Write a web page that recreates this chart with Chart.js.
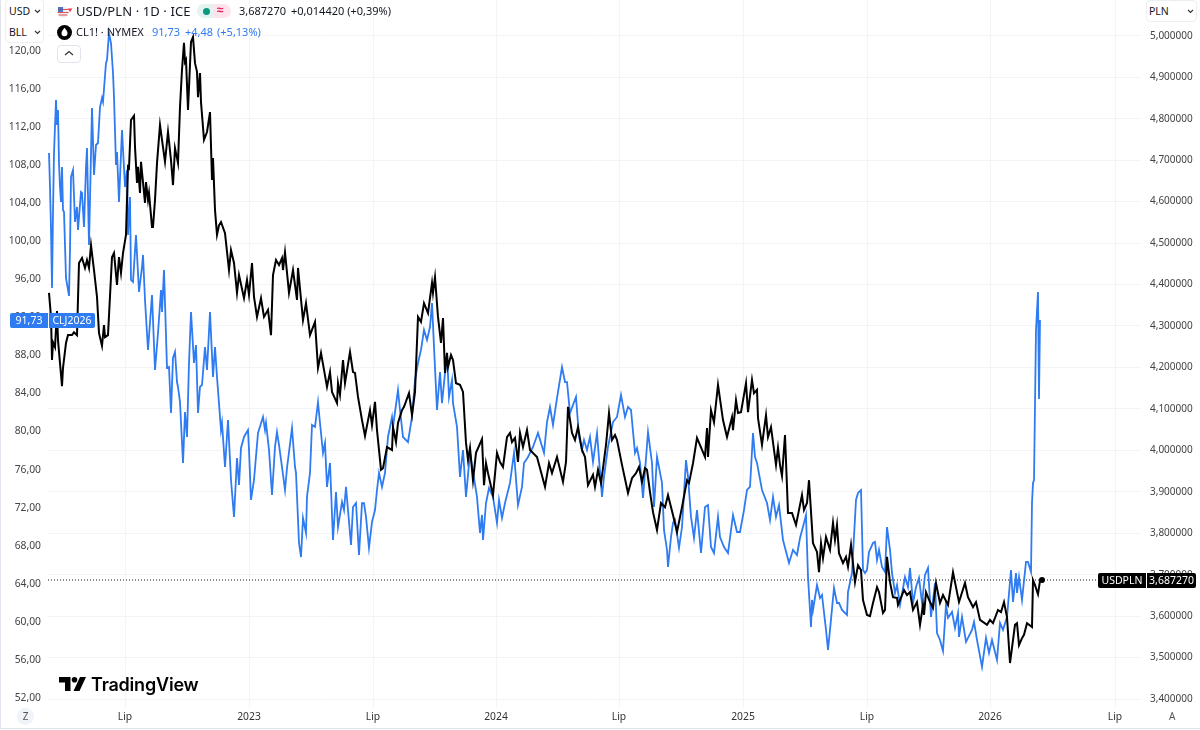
<!DOCTYPE html>
<html><head><meta charset="utf-8">
<script src="https://cdn.jsdelivr.net/npm/chart.js@4"></script>
<style>
html,body{margin:0;padding:0;background:#fff;overflow:hidden}
#wrap{position:relative;width:1200px;height:730px;font-family:"Noto Sans",sans-serif;color:#131722}
canvas{position:absolute;left:0;top:0}
.t{position:absolute;white-space:nowrap;line-height:14px}
.box{position:absolute;border:1px solid #eceef2;border-radius:4px;background:#fff;box-sizing:border-box}
.frame{position:absolute;background:#e0e3eb}
</style></head><body><div id="wrap"><canvas id="c" width="1200" height="730"></canvas>
<div class="frame" style="left:0;top:0;width:1px;height:729px"></div>
<div class="frame" style="left:0;top:728px;width:1200px;height:1px"></div>
<div class="box" style="left:5px;top:-1px;width:39px;height:44px"></div>
<div class="t" style="left:9px;top:4px;font-size:10.5px">USD</div>
<div class="t" style="left:9px;top:25px;font-size:10.5px">BLL</div>
<svg style="position:absolute;left:33px;top:8px" width="9" height="30"><path d="M2 2l2.5 2.5L7 2M2 23l2.5 2.5L7 23" fill="none" stroke="#333" stroke-width="1.1"/></svg>
<div class="box" style="left:1146px;top:0;width:51px;height:22px"></div>
<div class="t" style="left:1149px;top:4px;font-size:10.5px">PLN</div>
<svg style="position:absolute;left:1186px;top:9px" width="9" height="6"><path d="M2 1l2.5 2.5L7 1" fill="none" stroke="#333" stroke-width="1.1"/></svg>
<svg style="position:absolute;left:57px;top:6px" width="16" height="12"><circle cx="6" cy="6" r="5.5" fill="#e9edf5"/><path d="M1 3.5h10M.6 6.5h11M1.5 9h9" stroke="#e2534f" stroke-width="1.2"/><path d="M1 1h5v5H1z" fill="#3b5fb5" opacity=".85"/><path d="M10.5 2.5h5l-2.5 3.5z" fill="#f23645"/></svg>
<div class="t" style="left:76px;top:4px;font-size:13px;letter-spacing:.1px">USD/PLN · 1D · ICE</div>
<div style="position:absolute;left:197px;top:4px;width:34px;height:14px;border-radius:7px;background:linear-gradient(90deg,#e4f3ef 50%,#fde3ea 50%)"></div>
<div style="position:absolute;left:203px;top:8px;width:7px;height:7px;border-radius:50%;background:#089981"></div>
<div class="t" style="left:217px;top:3px;font-size:12px;color:#d81e5b;font-weight:700">≈</div>
<div class="t" style="left:239px;top:4px;font-size:11px">3,687270</div>
<div class="t" style="left:291px;top:4px;font-size:11px">+0,014420 (+0,39%)</div>
<svg style="position:absolute;left:57px;top:25px" width="15" height="15"><circle cx="7.5" cy="7.5" r="7.5" fill="#000"/><path d="M7.5 2.8c2 2.5 3 4 3 5.4a3 3 0 0 1-6 0c0-1.4 1-2.9 3-5.4z" fill="#fff"/></svg>
<div class="t" style="left:76px;top:25px;font-size:11px">CL1! · NYMEX</div>
<div class="t" style="left:152px;top:25px;font-size:11px;color:#2f7bf2">91,73</div>
<div class="t" style="left:185px;top:25px;font-size:11px;color:#2f7bf2">+4,48</div>
<div class="t" style="left:217px;top:25px;font-size:11px;color:#2f7bf2">(+5,13%)</div>
<div class="box" style="left:57px;top:45px;width:24px;height:18px;border-color:#e0e3eb"></div>
<svg style="position:absolute;left:64px;top:50px" width="10" height="7"><path d="M1 5l4-3.5L9 5" fill="none" stroke="#333" stroke-width="1.2"/></svg>
<div style="position:absolute;left:10px;top:313px;width:38px;height:15px;background:#2f7bf2;border-radius:2px 0 0 2px;color:#fff;font-size:10.5px;line-height:15px;text-align:center">91,73</div>
<div style="position:absolute;left:49px;top:313px;width:46px;height:15px;background:#2f7bf2;border-radius:0 2px 2px 0;color:#fff;font-size:10.5px;line-height:15px;text-align:center">CLJ2026</div>
<div style="position:absolute;left:1098px;top:573px;width:48px;height:15px;background:#000;border-radius:2px 0 0 2px;color:#fff;font-size:10.5px;line-height:15px;text-align:center">USDPLN</div>
<div style="position:absolute;left:1147px;top:573px;width:49px;height:15px;background:#000;border-radius:0 2px 2px 0;color:#fff;font-size:10.5px;line-height:15px;text-align:center">3,687270</div>
<svg style="position:absolute;left:59px;top:677px" width="27" height="15"><path d="M0 0h11.5v14H6V5.5H0zM21 0h6l-6.5 14h-6z" fill="#000"/><circle cx="15.5" cy="2.8" r="2.8" fill="#000"/></svg>
<div class="t" style="left:91px;top:675px;font-size:18px;line-height:20px;font-weight:600;font-family:Inter,sans-serif;color:#000;letter-spacing:-.2px">TradingView</div>
<div style="position:absolute;left:17px;top:708px;width:17px;height:17px;border-radius:50%;background:#f0f3fa;color:#555;font-size:10px;line-height:17px;text-align:center">Z</div>
<div class="t" style="left:1169px;top:709px;font-size:10px;color:#555">A</div>
</div>
<script>
const oilSessions=[1,2,3,4,5,6,8,9,10,11,12,13,14,15,16,18,21,22,23,25,27,29,30,33,34,36,38,39,41,44,46,48,50,52,54,55,58,59,61,63,65,66,68,69,71,74,77,79,80,82,83,85,88,91,94,95,97,100,104,107,110,113,114,116,119,121,123,125,127,129,130,132,135,137,139,141,143,146,148,150,152,154,157,159,162,165,167,169,173,174,177,180,183,186,189,191,193,196,200,201,203,206,210,215,217,218,221,224,227,229,231,234,237,239,244,247,248,251,253,255,258,259,262,264,267,270,272,275,277,279,282,285,288,290,294,296,298,300,303,305,308,311,314,316,318,321,324,327,329,331,334,337,340,344,345,350,352,355,360,364,367,370,373,376,379,382,384,386,389,392,394,399,401,404,405,409,412,415,418,422,429,432,434,435,438,441,445,449,451,454,457,462,466,470,474,476,480,485,490,496,499,502,505,509,514,517,519,522,528,531,534,536,539,542,545,549,554,556,560,565,569,573,577,580,583,587,589,592,595,600,604,606,609,614,616,619,620,623,625,627,631,634,638,640,643,646,649,653,657,660,663,666,670,672,676,680,685,689,692,696,699,702,705,707,709,714,719,722,725,728,731,735,741,745,749,752,756,758,760,763,764,765,769,772,774,778,780,782,786,789,791,794,799,800,804,808,810,813,815,817,819,821,825,827,829,831,834,837,839,842,844,847,849,852,857,860,862,865,868,871,874,877,880,883,887,889,892,895,898,900,904,907,910,911,914,918,924,926,929,934,938,941,944,946,949,952,955,959,963,965,968,969,971,974,978,980,983,984,985,986,988,990,991,992];
const oilValues=[109.26,105.69,101.17,95.08,103.06,109.26,114.83,112.20,113.77,108.21,105.69,104.11,107.79,103.27,103.06,96.13,94.24,99.07,106.74,107.47,102.01,103.59,101.17,105.16,105.06,101.49,107.79,109.78,99.60,113.99,106.95,110.10,110.31,114.09,115.04,114.62,118.71,119.03,121.86,120.81,117.66,115.14,108.00,109.36,104.11,111.67,105.69,107.47,100.65,104.64,95.92,95.71,100.65,94.66,97.28,98.55,93.82,88.57,94.34,86.46,90.35,94.87,92.56,96.97,86.68,86.78,81.95,87.73,88.36,85.20,84.68,83.10,76.70,82.05,79.43,87.20,92.56,87.20,89.09,81.95,84.68,84.89,88.88,86.46,92.56,85.73,88.88,85.73,80.16,80.90,76.28,81.21,74.91,71.03,77.22,74.39,78.27,79.43,80.16,78.06,72.81,74.91,79.85,81.53,80.16,80.90,78.06,73.34,78.38,79.95,78.59,76.28,73.86,76.17,80.37,76.28,75.65,68.29,66.82,70.92,69.34,73.13,75.65,80.69,80.48,83.10,80.90,77.75,78.80,74.18,76.70,68.61,73.65,69.97,72.60,71.76,74.18,71.76,68.08,72.07,72.49,67.03,72.49,72.49,71.03,67.77,70.50,71.76,73.86,75.65,74.18,75.65,79.43,81.53,80.48,84.36,82.26,79.43,78.90,81.53,85.41,87.20,88.57,90.67,89.62,90.98,93.50,88.88,82.26,86.25,82.99,88.25,83.63,85.41,82.99,80.48,75.23,78.06,73.13,77.75,73.13,69.34,71.24,68.61,72.49,74.07,73.13,70.40,72.81,70.92,72.49,74.60,77.75,72.28,74.18,76.70,77.33,78.38,79.85,77.75,81.00,82.58,80.69,83.52,86.78,85.20,85.20,81.95,83.63,79.43,78.06,79.11,78.06,79.43,76.80,79.85,73.13,75.23,78.38,81.00,81.53,83.84,81.53,82.58,82.26,77.75,78.27,76.70,73.02,79.95,76.70,72.07,77.33,74.60,69.66,67.56,65.77,68.92,70.40,70.71,67.77,69.97,77.01,75.23,71.03,68.82,71.76,67.24,72.07,72.28,67.87,67.24,71.03,68.92,67.87,67.24,71.24,69.45,69.45,71.76,73.86,74.18,79.85,77.33,76.70,73.86,72.49,70.71,73.13,71.03,72.28,68.61,66.19,67.56,67.03,68.82,70.40,71.24,64.72,59.47,62.31,61.26,63.88,62.52,62.83,59.16,57.06,59.16,63.57,61.99,61.99,61.26,60.73,63.15,65.14,72.81,73.55,73.86,65.46,65.14,65.46,67.35,68.29,68.40,66.51,67.56,65.77,65.25,69.97,67.56,65.14,63.04,63.88,61.78,64.72,63.67,65.67,61.99,63.67,64.62,61.99,64.93,65.67,60.52,64.09,58.84,58.11,56.95,61.78,60.42,61.05,59.37,60.94,58.42,60.52,57.90,59.16,60.00,58.11,55.27,58.32,56.74,58.11,57.26,56.00,59.89,59.16,60.52,65.46,62.10,65.14,63.04,64.72,62.31,66.30,66.30,65.25,72.49,74.60,74.91,90.67,94.66,83.42,91.72];
const usdSessions=[1,3,4,5,7,9,10,14,15,18,20,24,26,29,31,34,37,39,41,43,46,49,51,54,56,57,60,64,66,69,71,73,75,78,80,81,83,86,87,89,90,92,93,97,98,100,101,104,105,107,109,112,114,117,120,123,125,127,130,132,134,136,137,138,140,143,145,147,149,150,152,153,156,159,162,164,165,167,169,171,173,177,181,183,186,189,191,196,199,201,204,206,209,213,216,220,223,225,228,231,234,235,237,241,245,249,250,255,258,262,267,270,273,279,282,284,289,290,292,295,297,302,305,307,310,314,317,322,324,327,329,333,335,339,344,345,348,350,354,356,361,364,367,370,373,376,380,384,385,387,390,393,395,397,399,400,403,405,408,412,415,418,420,422,425,428,434,436,438,440,445,449,452,455,459,462,464,467,470,472,475,479,482,489,492,497,501,504,509,515,518,520,524,527,530,534,537,540,545,547,550,553,555,558,561,564,567,569,574,580,584,588,591,594,597,599,602,605,609,613,617,620,625,629,634,639,641,645,649,657,659,660,663,666,670,675,679,684,685,688,690,693,698,700,704,706,709,710,714,718,720,723,728,730,732,734,737,740,744,748,754,756,759,761,765,769,771,773,775,778,782,785,787,789,791,795,798,800,803,807,810,813,815,819,822,825,829,831,835,837,839,842,845,849,850,854,856,859,862,865,869,872,875,876,878,882,885,888,892,895,900,905,911,917,920,925,928,932,939,942,945,950,953,956,959,962,967,969,971,974,976,979,984,985,987,990,992,994];
const usdValues=[4.380,4.322,4.218,4.261,4.249,4.336,4.266,4.155,4.199,4.259,4.278,4.278,4.285,4.278,4.452,4.464,4.440,4.459,4.440,4.495,4.435,4.370,4.283,4.252,4.302,4.273,4.278,4.466,4.476,4.399,4.466,4.428,4.476,4.520,4.684,4.681,4.797,4.807,4.732,4.645,4.684,4.621,4.696,4.597,4.647,4.604,4.621,4.539,4.539,4.604,4.693,4.785,4.749,4.696,4.768,4.700,4.640,4.729,4.693,4.828,4.918,4.983,4.937,4.942,4.821,4.985,4.997,4.934,4.913,4.852,4.910,4.840,4.749,4.768,4.816,4.652,4.705,4.580,4.520,4.543,4.551,4.524,4.435,4.483,4.452,4.380,4.423,4.367,4.411,4.375,4.452,4.370,4.322,4.367,4.322,4.339,4.278,4.423,4.459,4.447,4.464,4.435,4.478,4.380,4.435,4.363,4.440,4.314,4.355,4.278,4.310,4.199,4.235,4.153,4.189,4.141,4.114,4.162,4.134,4.218,4.162,4.237,4.189,4.187,4.129,4.073,4.035,4.097,4.061,4.117,4.049,3.953,3.957,4.008,4.001,4.056,4.020,4.066,4.097,4.105,4.138,4.085,4.141,4.322,4.310,4.355,4.331,4.404,4.380,4.418,4.322,4.259,4.319,4.187,4.235,4.201,4.230,4.218,4.162,4.158,4.141,4.018,3.977,4.006,3.928,3.994,4.027,3.916,3.969,3.945,3.892,3.994,3.972,3.960,4.032,4.042,4.020,4.030,3.972,4.042,4.008,4.049,4.001,3.984,3.957,3.912,3.969,3.945,3.984,3.924,3.972,4.105,4.042,4.025,4.056,4.001,3.984,3.916,3.941,3.912,3.953,3.921,3.957,4.013,4.090,4.025,4.037,4.025,3.965,3.897,3.933,3.945,3.960,3.924,3.957,3.953,3.899,3.851,3.808,3.873,3.863,3.892,3.844,3.803,3.863,3.928,3.921,3.969,4.030,3.984,4.054,3.984,4.097,4.068,4.158,4.073,4.032,4.080,4.049,4.121,4.090,4.092,4.162,4.092,4.170,4.138,4.146,4.078,4.013,4.085,4.032,4.056,3.965,4.006,3.965,3.938,4.037,3.849,3.849,3.820,3.892,3.856,3.873,3.928,3.776,3.755,3.706,3.776,3.740,3.791,3.760,3.825,3.784,3.820,3.752,3.728,3.743,3.719,3.772,3.682,3.723,3.711,3.639,3.603,3.600,3.632,3.670,3.658,3.608,3.615,3.743,3.682,3.646,3.644,3.627,3.651,3.663,3.651,3.658,3.615,3.634,3.579,3.627,3.603,3.658,3.634,3.620,3.680,3.632,3.651,3.627,3.706,3.634,3.680,3.646,3.622,3.634,3.591,3.579,3.591,3.583,3.615,3.610,3.634,3.598,3.487,3.579,3.583,3.530,3.547,3.555,3.583,3.574,3.687,3.675,3.653,3.685,3.68727];
const timeTicks=[77,201,325,448,571,695,819,942,1067];
const timeLabels=['Lip','2023','Lip','2024','Lip','2025','Lip','2026','Lip'];
const oilTicks=[52,56,60,64,68,72,76,80,84,88,92,96,100,104,108,112,116,120];
const usdTicks=[3.4,3.5,3.6,3.7,3.8,3.9,4.0,4.1,4.2,4.3,4.4,4.5,4.6,4.7,4.8,4.9,5.0];
const usdLast=3.68727;
const zip=(a,b)=>a.map((x,i)=>({x,y:b[i]}));
const tickFont={family:'"Noto Sans",sans-serif',size:10.3};
const asTicks=a=>s=>{s.ticks=a.map(value=>({value}));};
const fitV=w=>s=>{s.width=w;s.paddingTop=0;s.paddingBottom=0;};
new Chart(document.getElementById('c'),{
 type:'line',
 data:{datasets:[
  {label:'USD/PLN',yAxisID:'usd',order:1,data:zip(usdSessions,usdValues),borderColor:'#000',borderWidth:2,tension:0,
   pointRadius:c=>c.dataIndex===usdSessions.length-1?3:0,pointBackgroundColor:'#000',pointBorderWidth:0},
  {label:'CL1!',yAxisID:'oil',order:2,data:zip(oilSessions,oilValues),borderColor:'#2f7bf2',borderWidth:1.8,tension:0,pointRadius:0},
  {label:'last',yAxisID:'usd',order:3,data:[{x:0,y:usdLast},{x:1093,y:usdLast}],borderColor:'#131722',borderWidth:1,borderDash:[1,2],pointRadius:0}
 ]},
 options:{responsive:false,animation:false,devicePixelRatio:1,layout:{padding:0,autoPadding:false},
  plugins:{legend:{display:false},tooltip:{enabled:false}},
  scales:{
   x:{type:'linear',min:0,max:1093,afterFit:s=>{s.height=22;s.paddingLeft=0;s.paddingRight=0;},afterBuildTicks:asTicks(timeTicks),
      grid:{color:'#f3f4f7',drawTicks:false},border:{display:false},
      ticks:{autoSkip:false,maxRotation:0,padding:3,color:'#333',font:tickFont,callback:v=>timeLabels[timeTicks.indexOf(v)]}},
   oil:{type:'linear',position:'left',min:50.96,max:125.33,afterFit:fitV(48),afterBuildTicks:asTicks(oilTicks),
      grid:{display:false,drawTicks:false},border:{display:false},
      ticks:{autoSkip:false,padding:7,color:'#444',font:tickFont,callback:v=>v.toFixed(2).replace('.',',')}},
   usd:{type:'linear',position:'right',min:3.3785,max:5.0864,afterFit:fitV(59),afterBuildTicks:asTicks(usdTicks),
      grid:{color:'#f3f4f7',drawTicks:false},border:{display:false},
      ticks:{autoSkip:false,padding:9,color:'#444',font:{family:tickFont.family,size:10},callback:v=>v.toFixed(6).replace('.',',')}}
  }}
});
</script></body></html>
